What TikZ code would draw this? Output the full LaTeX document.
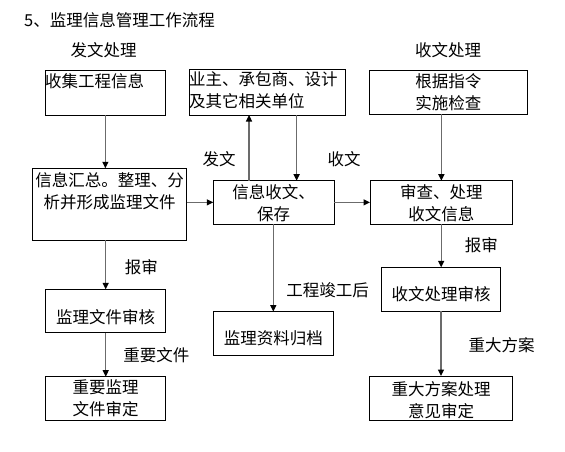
\documentclass[tikz,border=0pt]{standalone}
\usepackage{fontspec}
\setmainfont{Noto Sans CJK SC}
\usetikzlibrary{arrows.meta}
\newcommand\bxt[5]{\parbox[c][#2][t]{#1}{#4\vspace*{#3}\strut #5}}
\begin{document}
\begin{tikzpicture}[x=1pt,y=-1pt,
  font=\fontsize{16.5}{22}\selectfont,
  bx/.style={draw=black, line width=0.9pt, inner sep=0pt, outer sep=0pt, anchor=north west},
  conn/.style={draw=black!58, line width=1.3pt, -{Triangle[length=6.5pt,width=6pt,color=black]}},
  plain/.style={draw=black!58, line width=1.3pt},
  lbl/.style={inner sep=0pt}]
\useasboundingbox (0,0) rectangle (565,452);
% title and headings
\node[lbl, anchor=base west] (title) at (24,26.3) {5、监理信息管理工作流程};
\node[lbl] (hsend) at (103.6,50) {发文处理};
\node[lbl] (hrecv) at (448,50) {收文处理};
% boxes
\node[bx] (A) at (45,70.5) {\bxt{120.7pt}{44.5pt}{1.2pt}{\raggedright}{收集工程信息}};
\node[bx] (B) at (189,69.5) {\bxt{156.5pt}{45.5pt}{0.9pt}{\raggedright}{业主、承包商、设计\\ \strut 及其它相关单位}};
\node[bx] (C) at (369,70.3) {\bxt{158.7pt}{44pt}{2.3pt}{\centering}{根据指令\\ \strut 实施检查}};
\node[bx] (D) at (32.7,168.3) {\bxt{154pt}{71.7pt}{3pt}{\centering}{信息汇总。整理、分\\ \strut 析并形成监理文件}};
\node[bx] (E) at (213.3,180.7) {\bxt{120.7pt}{43.3pt}{1.9pt}{\centering}{信息收文、\\ \strut 保存}};
\node[bx] (F) at (370,180.7) {\bxt{142.7pt}{43.3pt}{1.9pt}{\centering}{审查、处理\\ \strut 收文信息}};
\node[bx] (G) at (45.7,289.3) {\bxt{120pt}{43.4pt}{18.3pt}{\centering}{监理文件审核}};
\node[bx] (H) at (213.3,311.7) {\bxt{120pt}{44pt}{17.2pt}{\centering}{监理资料归档}};
\node[bx] (I) at (381.7,267.3) {\bxt{119pt}{43.7pt}{17.6pt}{\centering}{收文处理审核}};
\node[bx] (J) at (45.7,376.7) {\bxt{120pt}{43.3pt}{1.2pt}{\centering}{重要监理\\ \strut 文件审定}};
\node[bx] (K) at (369.3,376) {\bxt{143.4pt}{44pt}{3.7pt}{\centering}{重大方案处理\\ \strut 意见审定}};
% connectors
\draw[conn] (A.south) -- (A.south |- D.north);
\draw[conn] (D.east |- E.west) -- (E.west);
\draw[conn] ([xshift=-24.6pt]E.north) -- ([xshift=-24.6pt]E.north |- B.south);
\draw[conn] ([xshift=23pt]E.north |- B.south) -- ([xshift=23pt]E.north);
\draw[conn] (F.north |- C.south) -- (F.north);
\draw[conn] (E.east) -- (F.west);
\draw[conn] (H.north |- E.south) -- (H.north);
\draw[conn] (G.north |- D.south) -- (G.north);
\draw[conn] (G.south) -- (J.north);
\draw[conn] (I.north |- F.south) -- (I.north);
\draw[conn] (K.north |- I.south) -- (K.north);
% connector labels
\node[lbl] (l1) at (219,158.8) {发文};
\node[lbl] (l2) at (344,158.8) {收文};
\node[lbl] (l3) at (141.3,266.7) {报审};
\node[lbl] (l4) at (156.3,355) {重要文件};
\node[lbl] (l5) at (327.5,290) {工程竣工后};
\node[lbl] (l6) at (481.3,245) {报审};
\node[lbl] (l7) at (501.7,345) {重大方案};
\end{tikzpicture}
\end{document}
